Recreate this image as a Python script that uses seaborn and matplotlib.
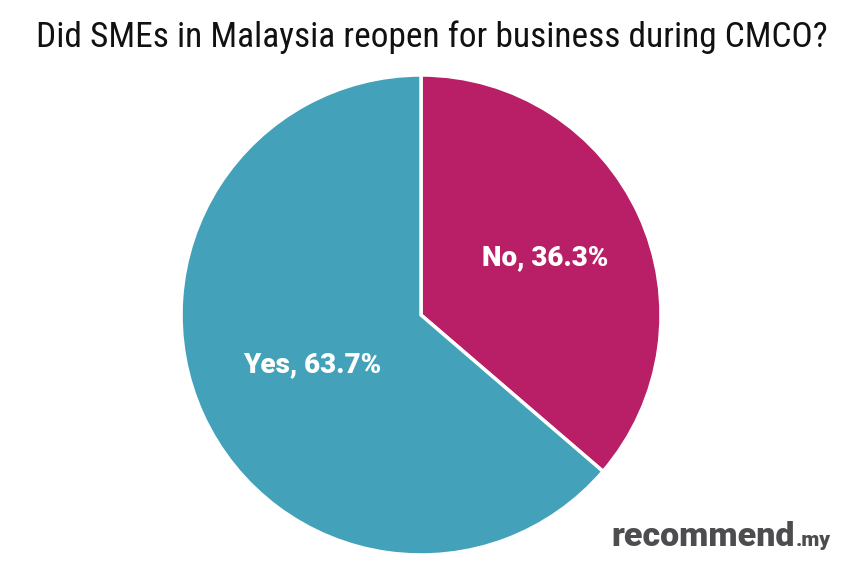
import numpy as np
import seaborn as sns
import matplotlib.pyplot as plt

# Data
labels = ['No', 'Yes']
shares = [36.3, 63.7]
colors = ['#B81F66', '#43A2BA']
title = 'Did SMEs in Malaysia reopen for business during CMCO?'

sns.set_style('white')
plt.rcParams['font.family'] = ['Roboto', 'DejaVu Sans']

fig = plt.figure(figsize=(8.64, 5.76), dpi=100)
ax = fig.add_axes([0.2095, 0.0365, 0.5556, 0.8333])

wedges, _ = ax.pie(
    shares,
    colors=colors,
    startangle=90,
    counterclock=False,
    wedgeprops=dict(edgecolor='white', linewidth=2.5),
)
ax.set_aspect('equal')
ax.set_xlim(-1, 1)
ax.set_ylim(-1, 1)
ax.axis('off')

# labels inside wedges
for w, lab, val, r in zip(wedges, labels, shares, [0.57, 0.50]):
    mid = np.deg2rad((w.theta1 + w.theta2) / 2)
    ax.text(r * np.cos(mid), r * np.sin(mid), f'{lab}, {val}%',
            ha='center', va='center', color='white',
            fontsize=20, fontweight='heavy', family='Roboto')

fig.text(0.5, 0.935, title, ha='center', va='center', fontsize=25.5,
         family=['Liberation Sans Narrow', 'Roboto Condensed', 'DejaVu Sans'],
         color='#111111')

# logo text
fig.canvas.draw()
logo = fig.text(0.708, 0.052, 'recommend', ha='left', va='baseline', fontsize=24.5,
                fontweight='heavy', family='Roboto', color='#4d4d4f')
bb = logo.get_window_extent(renderer=fig.canvas.get_renderer())
fig.text(bb.x1 / fig.bbox.width + 0.001, 0.052, '.my', ha='left', va='baseline',
         fontsize=15, fontweight='heavy', family='Roboto', color='#4d4d4f')

plt.savefig('out.png', dpi=100)
